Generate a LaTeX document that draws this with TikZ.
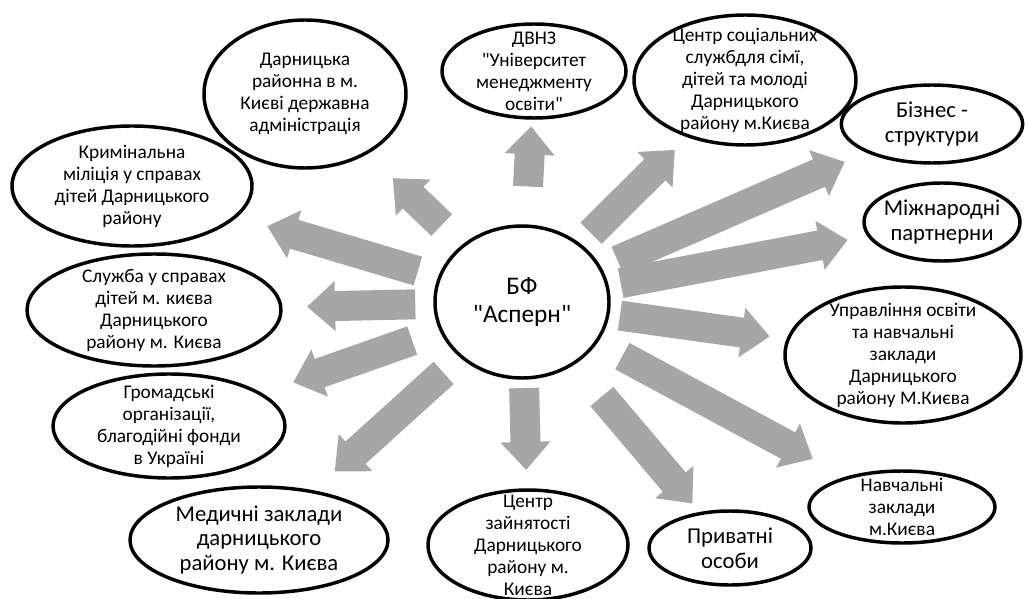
\documentclass[tikz,border=0pt]{standalone}
\usepackage{fontspec}
\setmainfont{Carlito}[Ligatures=TeXOff]
\usetikzlibrary{shapes.geometric,calc}
\definecolor{ink}{RGB}{0,0,0}
\definecolor{flowgray}{RGB}{166,166,166}

% block arrow from the centre node #1 towards node #2, between fractions #3 and #4
\newcommand{\flowarrow}[4]{%
  \coordinate (fa) at ($(#1)!#3!(#2)$);
  \coordinate (fb) at ($(#1)!#4!(#2)$);
  \coordinate (fh) at ($(fb)!21pt!(fa)$);
  \fill[flowgray] ($(fa)!11.25pt!90:(fb)$) -- ($(fh)!11.25pt!90:(fb)$)
    -- ($(fh)!18.75pt!90:(fb)$) -- (fb) -- ($(fh)!18.75pt!-90:(fb)$)
    -- ($(fh)!11.25pt!-90:(fb)$) -- ($(fa)!11.25pt!-90:(fb)$) -- cycle;}

\begin{document}
\begin{tikzpicture}[
  x=0.75pt, y=-0.75pt,
  org/.style={ellipse, draw=ink, line width=2.6pt, align=center, inner sep=-40pt, font=\fontsize{14.5}{16.5}\selectfont},
  big/.style={font=\fontsize{17}{18.5}\selectfont},
]

% ---- page ----
\fill[white] (0,0) rectangle (1027,599);
\useasboundingbox (0,0) rectangle (1027,599);

% ---- centre ----
\node[org, minimum width=130.5pt, minimum height=114pt, font=\fontsize{19}{21}\selectfont] (bf) at (522,302) {БФ\\"Асперн"};

% ---- partners, clockwise from top-left ----
\node[org, minimum width=151.5pt, minimum height=111pt] (dar) at (305,94) {Дарницька\\районна в м.\\Києві державна\\адміністрація};
\node[org, minimum width=138pt, minimum height=70.5pt] (dvnz) at (534,71) {ДВНЗ\\"Університет\\менеджменту\\освіти"};
\node[org, minimum width=166.5pt, minimum height=97.5pt] (csoc) at (745,80) {Центр соціальних\\службдля сімї,\\дітей та молоді\\Дарницького\\району м.Києва};
\node[org, big, minimum width=136pt, minimum height=58.5pt] (biz) at (932,124) {Бізнес -\\структури};
\node[org, big, minimum width=117pt, minimum height=58.5pt] (mizh) at (942,222) {Міжнародні\\партнерни};
\node[org, minimum width=177pt, minimum height=102pt] (upr) at (903,355) {Управління освіти\\та навчальні\\заклади\\Дарницького\\району М.Києва};
\node[org, minimum width=139.5pt, minimum height=54pt] (navch) at (902,507) {Навчальні\\заклади\\м.Києва};
\node[org, big, minimum width=121.5pt, minimum height=55.5pt] (pryv) at (730,548) {Приватні\\особи};
\node[org, minimum width=150pt, minimum height=82.5pt] (zain) at (528,545) {Центр\\зайнятості\\Дарницького\\району м.\\Києва};
\node[org, big, minimum width=193.5pt, minimum height=79.5pt] (med) at (259,540) {Медичні заклади\\дарницького\\району м. Києва};
\node[org, minimum width=174pt, minimum height=78pt] (hrom) at (169,426) {Громадські\\організації,\\благодійні фонди\\в Україні};
\node[org, minimum width=190.5pt, minimum height=84pt] (sluzh) at (154,310) {Служба у справах\\дітей м. києва\\Дарницького\\району м. Києва};
\node[org, minimum width=180pt, minimum height=90pt] (krim) at (132,186) {Кримінальна\\міліція у справах\\дітей Дарницького\\району};

% ---- block arrows out of the centre ----
\flowarrow{bf}{dar}{.37}{.595}
\flowarrow{bf}{dvnz}{.50}{.76}
\flowarrow{bf}{csoc}{.31}{.685}
\flowarrow{bf}{biz}{.233}{.787}
\flowarrow{bf}{mizh}{.235}{.775}
\flowarrow{bf}{upr}{.257}{.65}
\flowarrow{bf}{navch}{.264}{.765}
\flowarrow{bf}{pryv}{.384}{.819}
\flowarrow{bf}{zain}{.354}{.691}
\flowarrow{bf}{med}{.298}{.712}
\flowarrow{bf}{hrom}{.311}{.648}
\flowarrow{bf}{sluzh}{.29}{.584}
\flowarrow{bf}{krim}{.267}{.653}

\end{tikzpicture}
\end{document}
